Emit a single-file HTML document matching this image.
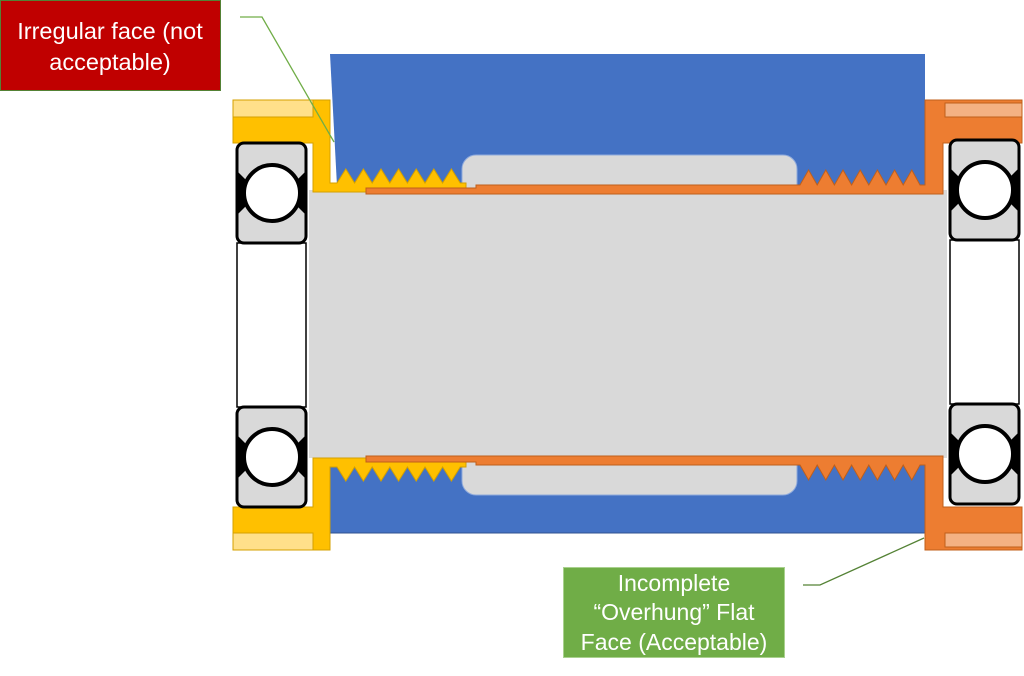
<!DOCTYPE html>
<html><head><style>
html,body{margin:0;padding:0;background:#fff;}
svg{display:block;}
</style></head><body>
<svg width="1024" height="676" viewBox="0 0 1024 676" xmlns="http://www.w3.org/2000/svg" font-family="Liberation Sans, sans-serif">
<defs>
<g id="bearing">
  <rect x="0" y="0" width="69" height="100" rx="7" fill="#d9d9d9" stroke="#000" stroke-width="3"/>
  <path d="M0,28 L10,38 L10,62 L0,72 Z M69,28 L59,38 L59,62 L69,72 Z" fill="#000"/>
  <circle cx="35" cy="50" r="28" fill="#fff" stroke="#000" stroke-width="4"/>
</g>
<g id="cups">
  <path d="M233,100 L330,100 L330,183 L337,183 L345.8,169 L354.6,183 L363.4,169 L372.2,183 L381,169 L389.8,183 L398.6,169 L407.4,183 L416.2,169 L425,183 L433.8,169 L442.6,183 L451.4,169 L460.2,183 L466,183 L466,188 L366,188 L366,192 L313,192 L313,143 L233,143 Z" fill="#ffc000" stroke="#d4a000" stroke-width="1"/>
  <rect x="233" y="100" width="80" height="17" fill="#ffe08a" stroke="#d4a000" stroke-width="1"/>
  <path d="M366,188 L476,188 L476,185 L800,185 L808.6,170 L817.2,185 L825.8,170 L834.4,185 L843,170 L851.6,185 L860.2,170 L868.8,185 L877.4,170 L886,185 L894.6,170 L903.2,185 L911.8,170 L920,185 L925,185 L925,100 L1022,100 L1022,143 L943,143 L943,194 L366,194 Z" fill="#ed7d31" stroke="#c05f1a" stroke-width="1"/>
  <rect x="945" y="103" width="77" height="14" fill="#f4b183" stroke="#c05f1a" stroke-width="1"/>
</g>
</defs>

<path d="M330,54 L925,54 L925,186 L337,186 Z" fill="#4472c4"/>
<rect x="330" y="464" width="595" height="69" fill="#4472c4" stroke="#2f528f" stroke-width="1"/>
<rect x="462" y="155" width="335" height="45" rx="14" fill="#d9d9d9" stroke="#8faadc" stroke-width="1"/>
<rect x="462" y="450" width="335" height="45" rx="14" fill="#d9d9d9" stroke="#8faadc" stroke-width="1"/>
<rect x="309" y="190" width="638" height="268" fill="#d9d9d9"/>

<use href="#cups"/>
<use href="#cups" transform="matrix(1,0,0,-1,0,650)"/>

<rect x="237" y="243" width="69" height="164" fill="#fff" stroke="#000" stroke-width="1.5"/>
<rect x="950" y="240" width="69" height="164" fill="#fff" stroke="#000" stroke-width="1.5"/>
<use href="#bearing" x="237" y="143"/>
<use href="#bearing" x="237" y="407"/>
<use href="#bearing" x="950" y="140"/>
<use href="#bearing" x="950" y="404"/>

<polyline points="240,17 262,17 334,142" fill="none" stroke="#70ad47" stroke-width="1.3"/>
<rect x="0.5" y="0.5" width="220" height="90" fill="#c00000" stroke="#538135" stroke-width="1"/>
<text x="110" y="39" fill="#fff" font-size="23.5" text-anchor="middle">Irregular face (not</text>
<text x="110" y="70" fill="#fff" font-size="23.5" text-anchor="middle">acceptable)</text>

<polyline points="803,585 820,585 924,538" fill="none" stroke="#548235" stroke-width="1.3"/>
<rect x="563.5" y="567.5" width="221" height="90" fill="#70ad47" stroke="#a9d18e" stroke-width="1"/>
<text x="674" y="591" fill="#fff" font-size="23" text-anchor="middle">Incomplete</text>
<text x="674" y="620" fill="#fff" font-size="23" text-anchor="middle">“Overhung” Flat</text>
<text x="674" y="650" fill="#fff" font-size="23" text-anchor="middle">Face (Acceptable)</text>
</svg>
</body></html>
